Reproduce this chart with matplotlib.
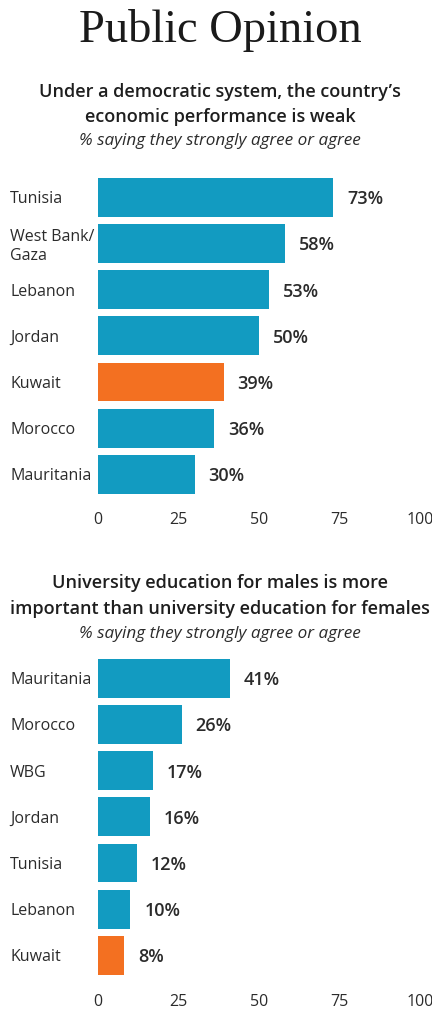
import matplotlib
matplotlib.use("Agg")
import matplotlib.pyplot as plt

# Data
countries1 = ["Tunisia", "West Bank/\nGaza", "Lebanon", "Jordan", "Kuwait", "Morocco", "Mauritania"]
values1 = [73, 58, 53, 50, 39, 36, 30]
countries2 = ["Mauritania", "Morocco", "WBG", "Jordan", "Tunisia", "Lebanon", "Kuwait"]
values2 = [41, 26, 17, 16, 12, 10, 8]
xticks = [0, 25, 50, 75, 100]
highlight = "Kuwait"

title = "Public Opinion"
q1 = "Under a democratic system, the country\u2019s\neconomic performance is weak"
q2 = "University education for males is more\nimportant than university education for females"
sub = "% saying they strongly agree or agree"

BLUE = "#129BC1"
ORANGE = "#F37021"
TXT = "#2b2b2b"
SANS = ["Open Sans", "DejaVu Sans"]

W, H = 432, 1027
fig = plt.figure(figsize=(W / 100, H / 100), dpi=100)
fig.patch.set_facecolor("white")

def fx(px):
    return px / W

def fy(py):
    return 1 - py / H

fig.text(fx(220), fy(30), title, ha="center", va="center",
         fontsize=33.5, family=["Liberation Serif", "DejaVu Serif"], color="#1a1a1a")

def panel(top_px, bottom_px, cats, vals, q, qy, sy):
    ax = fig.add_axes([fx(98), fy(bottom_px), fx(420) - fx(98), (bottom_px - top_px) / H])
    n = len(cats)
    colors = [ORANGE if c == highlight else BLUE for c in cats]
    ax.barh(range(n), vals, height=0.84, color=colors)
    ax.set_xlim(0, 100)
    ax.set_ylim(n - 0.5, -0.5)
    ax.set_xticks(xticks)
    ax.set_xticklabels([str(t) for t in xticks], family=SANS, fontsize=11.5, color=TXT)
    ax.set_yticks(range(n))
    ax.set_yticklabels(cats, family=SANS, fontsize=11.5, color=TXT, ha="left", linespacing=1.2)
    ax.tick_params(axis="y", length=0, pad=88 * 0.72)
    ax.tick_params(axis="x", length=0, pad=15 * 0.72)
    for s in ax.spines.values():
        s.set_visible(False)
    for i, v in enumerate(vals):
        ax.annotate(f"{v}%", (v, i), xytext=(14, -2), textcoords="offset pixels",
                    ha="left", va="center", fontsize=13, fontweight="semibold",
                    family=SANS, color=TXT)
    fig.text(fx(220), fy(qy), q, ha="center", va="center", fontsize=13,
             fontweight="semibold", family=SANS, color="#1e1e1e", linespacing=1.5)
    fig.text(fx(220), fy(sy), sub, ha="center", va="center", fontsize=12.3,
             style="italic", family=SANS, color=TXT)
    return ax

panel(174.2, 497.4, countries1, values1, q1, 104.5, 141)
panel(655.0, 978.5, countries2, values2, q2, 596, 634)

fig.savefig("out.png", dpi=100, facecolor="white")
